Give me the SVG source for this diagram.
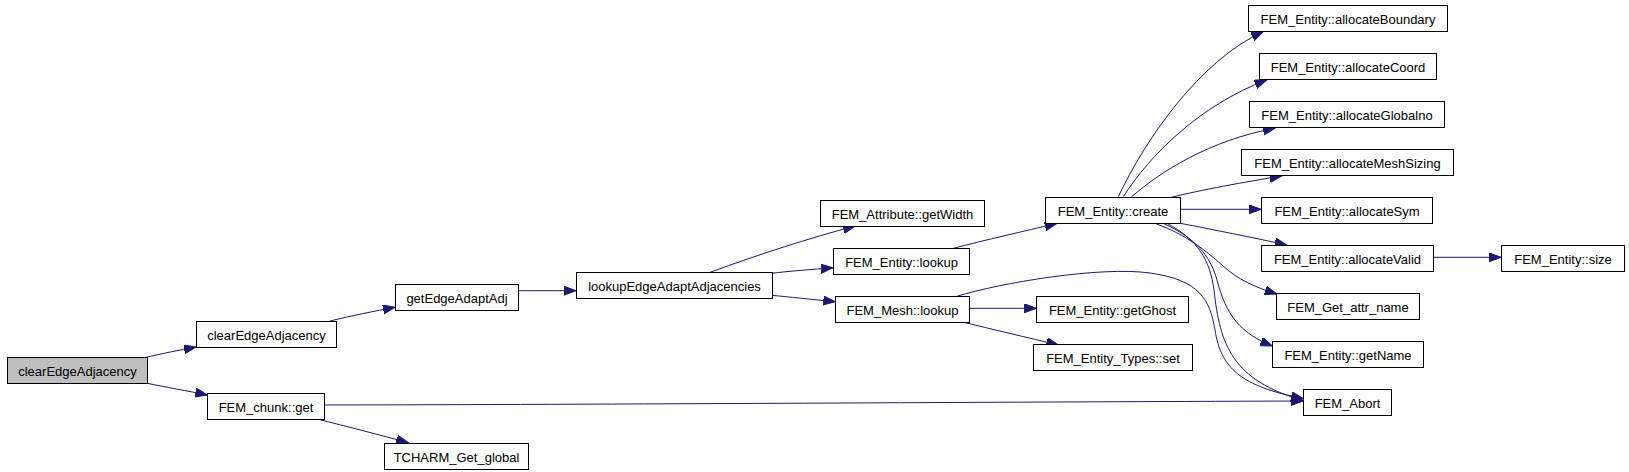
<svg xmlns="http://www.w3.org/2000/svg" width="1629" height="472" viewBox="0 0 1629 472">
<style>
.node rect{fill:#ffffff;stroke:#000000;stroke-width:1}
.node.root rect{fill:#bfbfbf}
.node text{font-family:"Liberation Sans",Arial,sans-serif;font-size:13px;fill:#000000;text-anchor:middle}
.edges path{fill:none;stroke:#191970;stroke-width:1;marker-end:url(#arr)}
</style>
<defs>
<marker id="arr" markerUnits="userSpaceOnUse" markerWidth="13" markerHeight="10" refX="12" refY="4.5" orient="auto">
<path d="M0,0 L12,4.5 L0,9 z" fill="#191970" stroke="#191970" stroke-width="1"/>
</marker>
</defs>
<rect x="0" y="0" width="1629" height="472" fill="#ffffff"/>
<g id="edges" class="edges">
<path d="M146,357.3 C160,354 180,350 196,347"/>
<path d="M147.3,383.3 C165,387 188,391 207.3,395"/>
<path d="M330,321 C350,316 375,311 395,307.3"/>
<path d="M318.3,419.3 C345,426 380,435 408.3,442.7"/>
<path d="M324,405 C600,404.5 1000,402 1303,401"/>
<path d="M518.3,290.7 L576,290.7"/>
<path d="M710,272.3 C760,254 810,238 855,226"/>
<path d="M771.7,273.3 C790,271 812,269.5 833,267.7"/>
<path d="M771.7,295.3 C790,297 812,299.5 835.3,301.7"/>
<path d="M953.3,248.3 C985,240 1025,231 1056.7,223.5"/>
<path d="M969.3,308.3 L1036.3,308.3"/>
<path d="M961.7,321.7 C990,329 1030,338 1058.3,345"/>
<path d="M956.7,296.3 C1000,283 1100,266 1150,273 C1200,280 1210,300 1215,330 C1221,368 1240,386 1303,398.5"/>
<path d="M1118.3,196.7 C1145,140 1200,60 1263.3,31.7"/>
<path d="M1123.3,196.7 C1150,155 1200,105 1266.7,80"/>
<path d="M1131.7,196.7 C1160,172 1210,140 1275,128.3"/>
<path d="M1171.7,197.3 C1200,190 1245,182 1281.7,176"/>
<path d="M1180.3,209.3 L1261,209.3"/>
<path d="M1180.3,223.3 C1210,229 1255,238 1286.7,245"/>
<path d="M1156.7,224 C1185,234 1205,250 1222,265 C1238,280 1255,287 1276.7,294"/>
<path d="M1163.3,223.3 C1195,238 1210,255 1217,280 C1226,315 1240,333 1272.3,346"/>
<path d="M1167,223.3 C1198,240 1210,260 1214,290 C1220,345 1232,380 1303,400.5"/>
<path d="M1433.3,257.3 L1501,257.3"/>
</g>
<g id="n0" class="node root"><rect x="7.5" y="357.5" width="140" height="26"/><text x="77.5" y="376">clearEdgeAdjacency</text></g>
<g id="n1" class="node"><rect x="196.5" y="321.5" width="140" height="26"/><text x="266.5" y="340">clearEdgeAdjacency</text></g>
<g id="n2" class="node"><rect x="207.5" y="393.5" width="117" height="26"/><text x="266" y="412">FEM_chunk::get</text></g>
<g id="n3" class="node"><rect x="395.5" y="284.5" width="123" height="26"/><text x="457" y="303">getEdgeAdaptAdj</text></g>
<g id="n4" class="node"><rect x="384.5" y="443.5" width="144" height="26"/><text x="456.5" y="462">TCHARM_Get_global</text></g>
<g id="n5" class="node"><rect x="576.5" y="272.5" width="196" height="26"/><text x="674.5" y="291">lookupEdgeAdaptAdjacencies</text></g>
<g id="n6" class="node"><rect x="820.5" y="200.5" width="164" height="26"/><text x="902.5" y="219">FEM_Attribute::getWidth</text></g>
<g id="n7" class="node"><rect x="833.5" y="248.5" width="136" height="26"/><text x="901.5" y="267">FEM_Entity::lookup</text></g>
<g id="n8" class="node"><rect x="835.5" y="296.5" width="134" height="26"/><text x="902.5" y="315">FEM_Mesh::lookup</text></g>
<g id="n9" class="node"><rect x="1045.5" y="197.5" width="135" height="26"/><text x="1113" y="216">FEM_Entity::create</text></g>
<g id="n10" class="node"><rect x="1036.5" y="296.5" width="152" height="26"/><text x="1112.5" y="315">FEM_Entity::getGhost</text></g>
<g id="n11" class="node"><rect x="1033.5" y="344.5" width="159" height="26"/><text x="1113" y="363">FEM_Entity_Types::set</text></g>
<g id="n12" class="node"><rect x="1248.5" y="5.5" width="199" height="26"/><text x="1348" y="24">FEM_Entity::allocateBoundary</text></g>
<g id="n13" class="node"><rect x="1259.5" y="53.5" width="177" height="26"/><text x="1348" y="72">FEM_Entity::allocateCoord</text></g>
<g id="n14" class="node"><rect x="1249.5" y="101.5" width="195" height="26"/><text x="1347" y="120">FEM_Entity::allocateGlobalno</text></g>
<g id="n15" class="node"><rect x="1241.5" y="149.5" width="212" height="26"/><text x="1347.5" y="168">FEM_Entity::allocateMeshSizing</text></g>
<g id="n16" class="node"><rect x="1261.5" y="197.5" width="171" height="26"/><text x="1347" y="216">FEM_Entity::allocateSym</text></g>
<g id="n17" class="node"><rect x="1261.5" y="245.5" width="172" height="26"/><text x="1347.5" y="264">FEM_Entity::allocateValid</text></g>
<g id="n18" class="node"><rect x="1276.5" y="293.5" width="143" height="26"/><text x="1348" y="312">FEM_Get_attr_name</text></g>
<g id="n19" class="node"><rect x="1272.5" y="341.5" width="151" height="26"/><text x="1348" y="360">FEM_Entity::getName</text></g>
<g id="n20" class="node"><rect x="1303.5" y="389.5" width="88" height="26"/><text x="1347.5" y="408">FEM_Abort</text></g>
<g id="n21" class="node"><rect x="1501.5" y="245.5" width="123" height="26"/><text x="1563" y="264">FEM_Entity::size</text></g>
</svg>
